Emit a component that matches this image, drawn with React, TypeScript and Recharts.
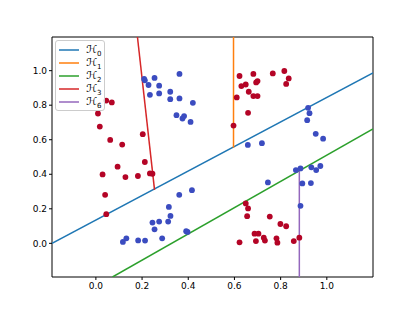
import { ScatterChart, Scatter, XAxis, YAxis, Legend, ReferenceLine } from 'recharts';

// axis limits and ticks
const xLimits = [-0.19, 1.2];
const yLimits = [-0.195, 1.195];
const xTicks = [0, 0.2, 0.4, 0.6, 0.8, 1.0];
const yTicks = [0, 0.2, 0.4, 0.6, 0.8, 1.0];

// class -1 (red) and class +1 (blue) samples
const redPoints = [
    { x: 0.045, y: 0.827 }, { x: 0.069, y: 0.816 }, { x: 0.009, y: 0.752 }, { x: 0.017, y: 0.676 },
    { x: 0.062, y: 0.599 }, { x: 0.114, y: 0.572 }, { x: 0.203, y: 0.632 }, { x: 0.212, y: 0.471 },
    { x: 0.094, y: 0.444 }, { x: 0.029, y: 0.399 }, { x: 0.128, y: 0.384 }, { x: 0.182, y: 0.39 },
    { x: 0.234, y: 0.405 }, { x: 0.245, y: 0.403 }, { x: 0.04, y: 0.281 }, { x: 0.045, y: 0.169 },
    { x: 0.622, y: 0.969 }, { x: 0.682, y: 0.981 }, { x: 0.766, y: 0.984 }, { x: 0.816, y: 0.998 },
    { x: 0.835, y: 0.955 }, { x: 0.824, y: 0.923 }, { x: 0.63, y: 0.911 }, { x: 0.649, y: 0.92 },
    { x: 0.694, y: 0.932 }, { x: 0.7, y: 0.94 }, { x: 0.662, y: 0.878 }, { x: 0.682, y: 0.853 },
    { x: 0.7, y: 0.853 }, { x: 0.61, y: 0.845 }, { x: 0.659, y: 0.756 }, { x: 0.596, y: 0.682 },
    { x: 0.649, y: 0.231 }, { x: 0.659, y: 0.202 }, { x: 0.655, y: 0.157 }, { x: 0.753, y: 0.155 },
    { x: 0.799, y: 0.112 }, { x: 0.824, y: 0.099 }, { x: 0.687, y: 0.056 }, { x: 0.704, y: 0.056 },
    { x: 0.693, y: 0.013 }, { x: 0.727, y: 0.033 }, { x: 0.732, y: 0.016 }, { x: 0.782, y: 0.029 },
    { x: 0.786, y: 0.004 }, { x: 0.622, y: 0.006 }, { x: 0.857, y: 0.013 }, { x: 0.881, y: 0.033 },
];

const bluePoints = [
    { x: 0.209, y: 0.952 }, { x: 0.212, y: 0.944 }, { x: 0.254, y: 0.958 }, { x: 0.228, y: 0.917 },
    { x: 0.274, y: 0.913 }, { x: 0.362, y: 0.981 }, { x: 0.234, y: 0.86 }, { x: 0.274, y: 0.868 },
    { x: 0.322, y: 0.878 }, { x: 0.322, y: 0.835 }, { x: 0.362, y: 0.839 }, { x: 0.42, y: 0.814 },
    { x: 0.349, y: 0.742 }, { x: 0.375, y: 0.723 }, { x: 0.382, y: 0.737 }, { x: 0.41, y: 0.703 },
    { x: 0.117, y: 0.008 }, { x: 0.132, y: 0.029 }, { x: 0.183, y: 0.017 }, { x: 0.213, y: 0.016 },
    { x: 0.245, y: 0.12 }, { x: 0.254, y: 0.081 }, { x: 0.274, y: 0.126 }, { x: 0.287, y: 0.029 },
    { x: 0.313, y: 0.126 }, { x: 0.323, y: 0.159 }, { x: 0.316, y: 0.211 }, { x: 0.361, y: 0.281 },
    { x: 0.416, y: 0.308 }, { x: 0.391, y: 0.07 }, { x: 0.397, y: 0.066 },
    { x: 0.919, y: 0.785 }, { x: 0.925, y: 0.754 }, { x: 0.915, y: 0.713 }, { x: 0.952, y: 0.634 },
    { x: 0.984, y: 0.606 }, { x: 0.658, y: 0.57 }, { x: 0.719, y: 0.58 }, { x: 0.866, y: 0.424 },
    { x: 0.886, y: 0.434 }, { x: 0.933, y: 0.44 }, { x: 0.954, y: 0.424 }, { x: 0.972, y: 0.448 },
    { x: 0.745, y: 0.353 }, { x: 0.894, y: 0.347 }, { x: 0.931, y: 0.349 }, { x: 0.886, y: 0.217 },
];

// hyperplane segments (endpoints)
const h0 = [{ x: -0.19, y: 0.0 }, { x: 1.2, y: 0.987 }];
const h1 = [{ x: 0.596, y: 1.195 }, { x: 0.596, y: 0.554 }];
const h2 = [{ x: 0.072, y: -0.195 }, { x: 1.2, y: 0.663 }];
const h3 = [{ x: 0.18, y: 1.195 }, { x: 0.254, y: 0.31 }];
const h6 = [{ x: 0.881, y: -0.195 }, { x: 0.881, y: 0.42 }];

const hyperplanes = [
    { sub: '0', data: h0, color: '#1f77b4' },
    { sub: '1', data: h1, color: '#ff7f0e' },
    { sub: '2', data: h2, color: '#2ca02c' },
    { sub: '3', data: h3, color: '#d62728' },
    { sub: '6', data: h6, color: '#9467bd' },
];

const font = '"DejaVu Sans", sans-serif';
const tickStyle = { fontSize: 9, fill: '#000', fontFamily: font };

const dot = (color: string) => (props: any) => (
    <circle cx={props.cx} cy={props.cy} r={2.9} fill={color} />
);

const noShape = () => <g />;

const renderLegend = (props: any) => {
    const items = (props.payload || []).filter((p: any) => p.type !== 'none');
    return (
        <div style={{
            border: '1px solid #cccccc', borderRadius: 3, background: 'rgba(255,255,255,0.8)',
            padding: '2px 3px 2px 2px', fontFamily: font, fontSize: 10, lineHeight: '13px',
        }}>
            {items.map((p: any, i: number) => (
                <div key={i} style={{ display: 'flex', alignItems: 'center', height: 13 }}>
                    <svg width={22} height={4} style={{ marginRight: 6, display: 'block' }}>
                        <line x1={1} y1={2} x2={21} y2={2} stroke={p.color} strokeWidth={1.5} />
                    </svg>
                    <span style={{ fontStyle: 'italic', fontSize: 11 }}>ℋ<sub style={{ fontSize: 7, fontStyle: 'normal', lineHeight: 0 }}>{p.value}</sub></span>
                </div>
            ))}
        </div>
    );
};

export default function App() {
    return (
        <div style={{ position: 'absolute', left: 0, top: 0, width: 415, height: 311, background: '#fff' }}>
            <ScatterChart width={415} height={311} margin={{ top: 37, right: 42, bottom: 0, left: 0 }}>
                <XAxis
                    type="number" dataKey="x" domain={xLimits} ticks={xTicks} allowDataOverflow
                    tickFormatter={(v: number) => v.toFixed(1)} tick={tickStyle} tickSize={3} tickMargin={3}
                    height={34} stroke="#000" tickLine={{ stroke: '#000' }}
                />
                <YAxis
                    type="number" dataKey="y" domain={yLimits} ticks={yTicks} allowDataOverflow
                    tickFormatter={(v: number) => v.toFixed(1)} tick={tickStyle} tickSize={3} tickMargin={2}
                    width={52} stroke="#000" tickLine={{ stroke: '#000' }}
                />
                <ReferenceLine y={yLimits[1]} stroke="#000" />
                <ReferenceLine x={xLimits[1]} stroke="#000" />
                {hyperplanes.map((h) => (
                    <Scatter
                        key={h.sub} name={h.sub} data={h.data} fill={h.color} legendType="line"
                        line={{ stroke: h.color, strokeWidth: 1.5 }} shape={noShape} isAnimationActive={false}
                    />
                ))}
                <Scatter name="red" data={redPoints} fill="#b40426" shape={dot('#b40426')} legendType="none" isAnimationActive={false} />
                <Scatter name="blue" data={bluePoints} fill="#3b4cc0" shape={dot('#3b4cc0')} legendType="none" isAnimationActive={false} />
                <Legend
                    content={renderLegend} layout="vertical" align="center" verticalAlign="middle"
                    wrapperStyle={{ position: 'absolute', left: 55, top: 40, width: 'auto', height: 'auto' }}
                />
            </ScatterChart>
        </div>
    );
}
